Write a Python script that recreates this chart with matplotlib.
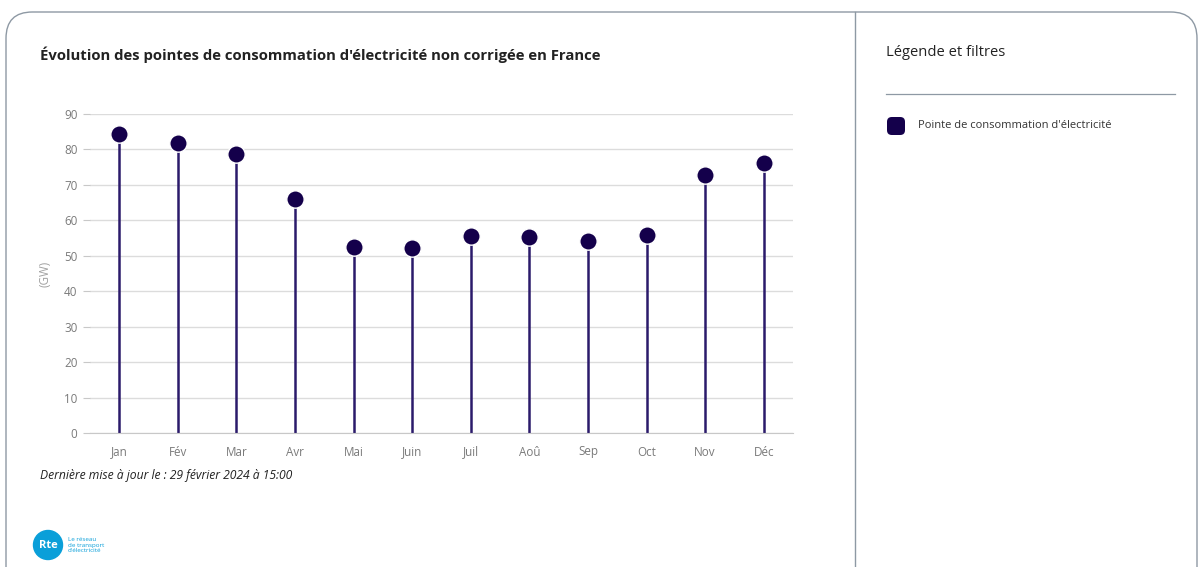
import matplotlib
matplotlib.use("Agg")
import matplotlib.pyplot as plt
from matplotlib.patches import FancyBboxPatch, Ellipse
from matplotlib.lines import Line2D

plt.rcParams['font.family'] = ['Open Sans', 'DejaVu Sans']

months = ["Jan", "Fév", "Mar", "Avr", "Mai", "Juin", "Juil", "Aoû", "Sep", "Oct", "Nov", "Déc"]
peaks_gw = [84.3, 81.9, 78.6, 66.0, 52.6, 52.1, 55.6, 55.2, 54.3, 55.9, 72.8, 76.1]
yticks = [0, 10, 20, 30, 40, 50, 60, 70, 80, 90]

W, H = 1198, 567
stem_color = '#2b1a6b'
dot_color = '#14004b'
grey_txt = '#7a7a7a'


def fx(px):
    return px / W


def fy(py):
    return 1 - py / H


def main():
    fig = plt.figure(figsize=(W / 100, H / 100), dpi=100)

    # card frame
    card = FancyBboxPatch((fx(6), fy(600)), fx(1191), fy(12) - fy(600),
                          boxstyle="round,pad=0,rounding_size=0.022",
                          transform=fig.transFigure, fill=False,
                          edgecolor='#8e99a4', linewidth=1.0, mutation_aspect=W / H)
    fig.patches.append(card)
    fig.add_artist(Line2D([fx(855), fx(855)], [0, fy(12)], color='#8e99a4', linewidth=1.0))

    ax = fig.add_axes([fx(90), fy(433), fx(793) - fx(90), fy(114) - fy(433)])
    x = list(range(len(months)))
    ax.vlines(x, 0, peaks_gw, color=stem_color, linewidth=1.8, zorder=2)
    ax.plot(x, peaks_gw, 'o', color=dot_color, markersize=12.5,
            markeredgecolor='white', markeredgewidth=1.0, zorder=3, linestyle='none')

    ax.set_xlim(-0.5, len(months) - 0.5)
    ax.set_ylim(0, 90)
    ax.set_yticks(yticks)
    ax.set_xticks(x)
    ax.set_xticklabels(months)
    ax.grid(axis='y', color='#dcdcdc', linewidth=1.0, zorder=0)
    ax.set_axisbelow(True)
    for s in ['top', 'right', 'left']:
        ax.spines[s].set_visible(False)
    ax.spines['bottom'].set_color('#c8c8c8')
    ax.tick_params(axis='y', length=5, color='#c8c8c8', labelsize=8.4, labelcolor=grey_txt, pad=4)
    ax.tick_params(axis='x', length=0, labelsize=8.4, labelcolor=grey_txt, pad=9)
    ax.set_ylabel('(GW)', color='#a0a0a0', fontsize=8.4, labelpad=9)

    fig.text(fx(40), fy(55), "Évolution des pointes de consommation d'électricité non corrigée en France",
             fontsize=10.7, fontweight='bold', color='#222222', va='center', ha='left')
    fig.text(fx(40), fy(476), "Dernière mise à jour le : 29 février 2024 à 15:00",
             fontsize=8.7, style='italic', color='#222222', va='center', ha='left')

    # logo
    fig.add_artist(Ellipse((fx(48), fy(545)), fx(29), 29 / H, transform=fig.transFigure,
                           color='#0a9fd9', zorder=5))
    fig.text(fx(48), fy(545), "Rte", fontsize=8, fontweight='bold', color='white',
             ha='center', va='center', zorder=6)
    fig.text(fx(68), fy(545), "Le réseau\nde transport\nd'électricité", fontsize=4.5,
             color='#0a9fd9', ha='left', va='center', linespacing=1.2)

    # right panel legend
    fig.text(fx(886), fy(53), "Légende et filtres", fontsize=10.6, color='#222222',
             va='center', ha='left')
    fig.add_artist(Line2D([fx(886), fx(1175)], [fy(94), fy(94)], color='#8e99a4', linewidth=0.9))
    sq = FancyBboxPatch((fx(887), fy(135)), fx(18), fy(117) - fy(135),
                        boxstyle="round,pad=0,rounding_size=0.004",
                        transform=fig.transFigure, facecolor=dot_color, edgecolor='none',
                        mutation_aspect=W / H)
    fig.patches.append(sq)
    fig.text(fx(918), fy(126), "Pointe de consommation d'électricité", fontsize=8.0,
             color='#333333', va='center', ha='left')

    fig.savefig("out.png", dpi=100)


if __name__ == "__main__":
    main()
